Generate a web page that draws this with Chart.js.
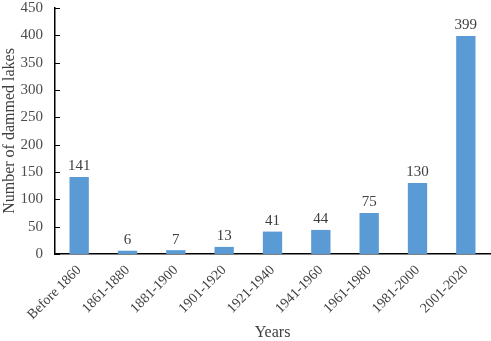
<!DOCTYPE html>
<html>
<head>
<meta charset="utf-8">
<script src="https://cdn.jsdelivr.net/npm/chart.js@4/dist/chart.umd.min.js"></script>
<style>
    html, body { margin: 0; padding: 0; background: #fff; }
    #wrap { width: 491px; height: 341px; }
</style>
</head>
<body>
<div id="wrap"><canvas id="chart" width="491" height="341"></canvas></div>
<script>
// Data
const periods = ["Before 1860", "1861-1880", "1881-1900", "1901-1920", "1921-1940",
                 "1941-1960", "1961-1980", "1981-2000", "2001-2020"];
const lakeCounts = [141, 6, 7, 13, 41, 44, 75, 130, 399];
const yTicks = [0, 50, 100, 150, 200, 250, 300, 350, 400, 450];

const FONT = "'Liberation Serif', 'Times New Roman', serif";
const TEXT = "#404040";

// Draw the value on top of each bar
const valueLabels = {
    id: "valueLabels",
    afterDatasetsDraw(chart) {
        const c = chart.ctx;
        const meta = chart.getDatasetMeta(0);
        c.save();
        c.font = "15px " + FONT;
        c.fillStyle = TEXT;
        c.textAlign = "center";
        c.textBaseline = "bottom";
        meta.data.forEach((bar, i) => {
            c.fillText(String(lakeCounts[i]), bar.x, bar.y - 3);
        });
        c.restore();
    }
};

// Short tick marks pointing inward from the y axis
const innerTicks = {
    id: "innerTicks",
    afterDraw(chart) {
        const c = chart.ctx;
        const y = chart.scales.y;
        c.save();
        c.strokeStyle = "#000";
        c.lineWidth = 1;
        yTicks.forEach(v => {
            const py = Math.round(y.getPixelForValue(v)) + 0.5;
            c.beginPath();
            c.moveTo(y.right, py);
            c.lineTo(y.right + 5, py);
            c.stroke();
        });
        c.restore();
    }
};

const ctx = document.getElementById("chart").getContext("2d");

new Chart(ctx, {
    type: "bar",
    data: {
        labels: periods,
        datasets: [{
            data: lakeCounts,
            backgroundColor: "#5b9bd5",
            borderWidth: 0,
            barPercentage: 0.8,
            categoryPercentage: 0.5
        }]
    },
    options: {
        responsive: false,
        animation: false,
        layout: { padding: { top: 8, right: 1, left: 0, bottom: 0 } },
        plugins: {
            legend: { display: false },
            tooltip: { enabled: false }
        },
        scales: {
            x: {
                grid: { display: false, drawTicks: false },
                border: { color: "#000", width: 1.5 },
                ticks: {
                    color: TEXT,
                    font: { family: FONT, size: 14 },
                    maxRotation: 45,
                    minRotation: 45,
                    padding: 8,
                    autoSkip: false
                },
                title: {
                    display: true,
                    text: "Years",
                    color: TEXT,
                    font: { family: FONT, size: 16, lineHeight: 1 },
                    padding: { top: 0, bottom: 0 }
                },
                afterFit(scale) {
                    scale.height = 87;
                    scale.paddingTop = 0;
                    scale.paddingBottom = 0;
                }
            },
            y: {
                min: 0,
                max: 450,
                afterBuildTicks(scale) {
                    scale.ticks = yTicks.map(v => ({ value: v }));
                },
                grid: { display: false, drawTicks: false },
                border: { color: "#000", width: 1.5 },
                ticks: {
                    color: "#4d4d4d",
                    font: { family: FONT, size: 15 },
                    padding: 12
                },
                title: {
                    display: true,
                    text: "Number of dammed lakes",
                    color: TEXT,
                    font: { family: FONT, size: 16 },
                    padding: { top: 0, bottom: 0 }
                },
                afterFit(scale) {
                    scale.width = 55;
                    scale.paddingTop = 0;
                    scale.paddingBottom = 0;
                }
            }
        }
    },
    plugins: [valueLabels, innerTicks]
});
</script>
</body>
</html>
